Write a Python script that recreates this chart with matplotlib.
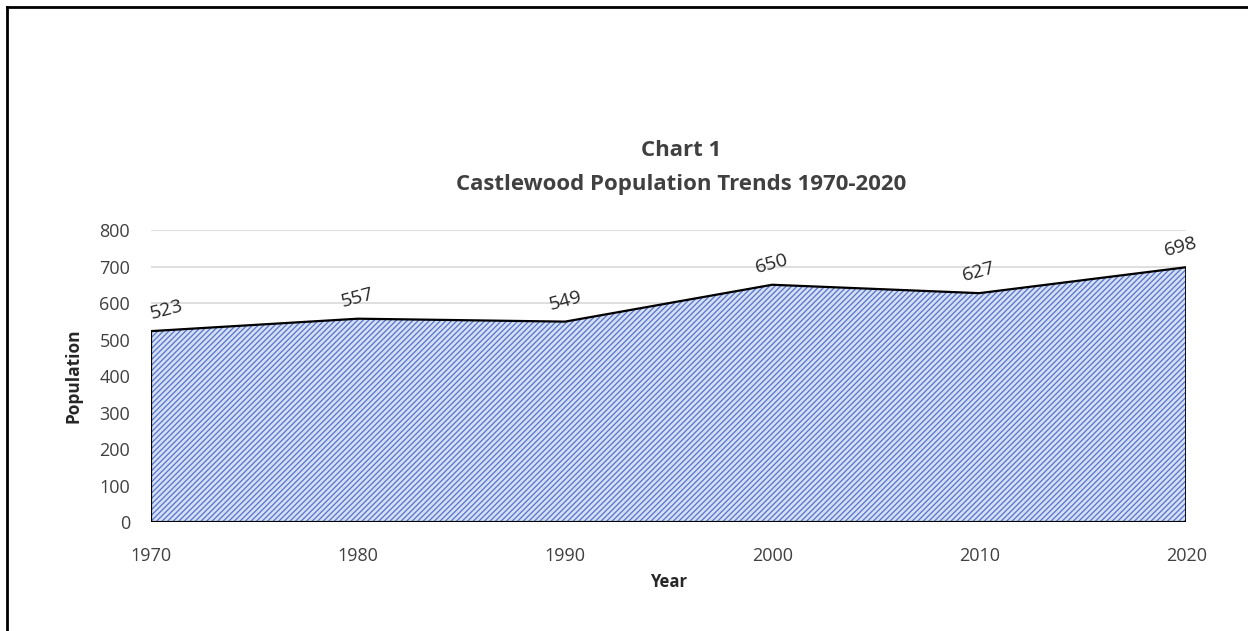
import matplotlib.pyplot as plt
from matplotlib.lines import Line2D

# ── 데이터 ──
years = [1970, 1980, 1990, 2000, 2010, 2020]
population = [523, 557, 549, 650, 627, 698]
yticks = [0, 100, 200, 300, 400, 500, 600, 700, 800]

plt.rcParams['font.family'] = ['Open Sans', 'DejaVu Sans']
plt.rcParams['hatch.linewidth'] = 0.9

fig = plt.figure(figsize=(12.48, 6.31), dpi=100)
ax = fig.add_axes([0.121, 0.1727, 0.8295, 0.4628])

# area: light fill + dense diagonal hatch + black outline
ax.fill_between(years, population, 0, facecolor='#d4dff6', edgecolor='none', zorder=2)
ax.fill_between(years, population, 0, facecolor='none', edgecolor='#5673c6',
                hatch='//////', linewidth=0, zorder=3)
ax.plot([years[0]] + years + [years[-1], years[0]],
        [0] + population + [0, 0], color='black', linewidth=1.6, zorder=4,
        solid_joinstyle='miter')

# data labels
for i, (x, y) in enumerate(zip(years, population)):
    dx = 11 if i == 0 else (-4 if i == len(years) - 1 else 0)
    ax.annotate(str(y), (x, y), textcoords='offset points', xytext=(dx, 15),
                ha='center', va='center', rotation=15, fontsize=14, color='#262626')

ax.set_xlim(years[0], years[-1])
ax.set_ylim(0, 800)
ax.set_yticks(yticks)
ax.set_xticks(years)
ax.set_xticklabels([str(y) for y in years], fontsize=13, color='#404040')
ax.set_yticklabels([str(v) for v in yticks], fontsize=13, color='#404040')
ax.tick_params(axis='x', length=0, pad=18)
ax.tick_params(axis='y', length=0, pad=15)
ax.grid(axis='y', color='#d9d9d9', linewidth=1.2, zorder=0)
ax.set_axisbelow(True)
for s in ax.spines.values():
    s.set_visible(False)

ax.set_xlabel('Year', fontsize=12, fontweight='bold', color='#262626', labelpad=6)
ax.set_ylabel('Population', fontsize=12.5, fontweight='bold', color='#262626', labelpad=12)

fig.text(0.546, 0.762, 'Chart 1', ha='center', va='center',
         fontsize=16, fontweight='bold', color='#404040')
fig.text(0.546, 0.707, 'Castlewood Population Trends 1970-2020', ha='center', va='center',
         fontsize=16, fontweight='bold', color='#404040')

# outer border (top & left)
fig.add_artist(Line2D([0.0056, 1.0], [0.989, 0.989], color='black', linewidth=2,
                      transform=fig.transFigure))
fig.add_artist(Line2D([0.0056, 0.0056], [0.0, 0.989], color='black', linewidth=2,
                      transform=fig.transFigure))

fig.savefig('out.png', dpi=100)
